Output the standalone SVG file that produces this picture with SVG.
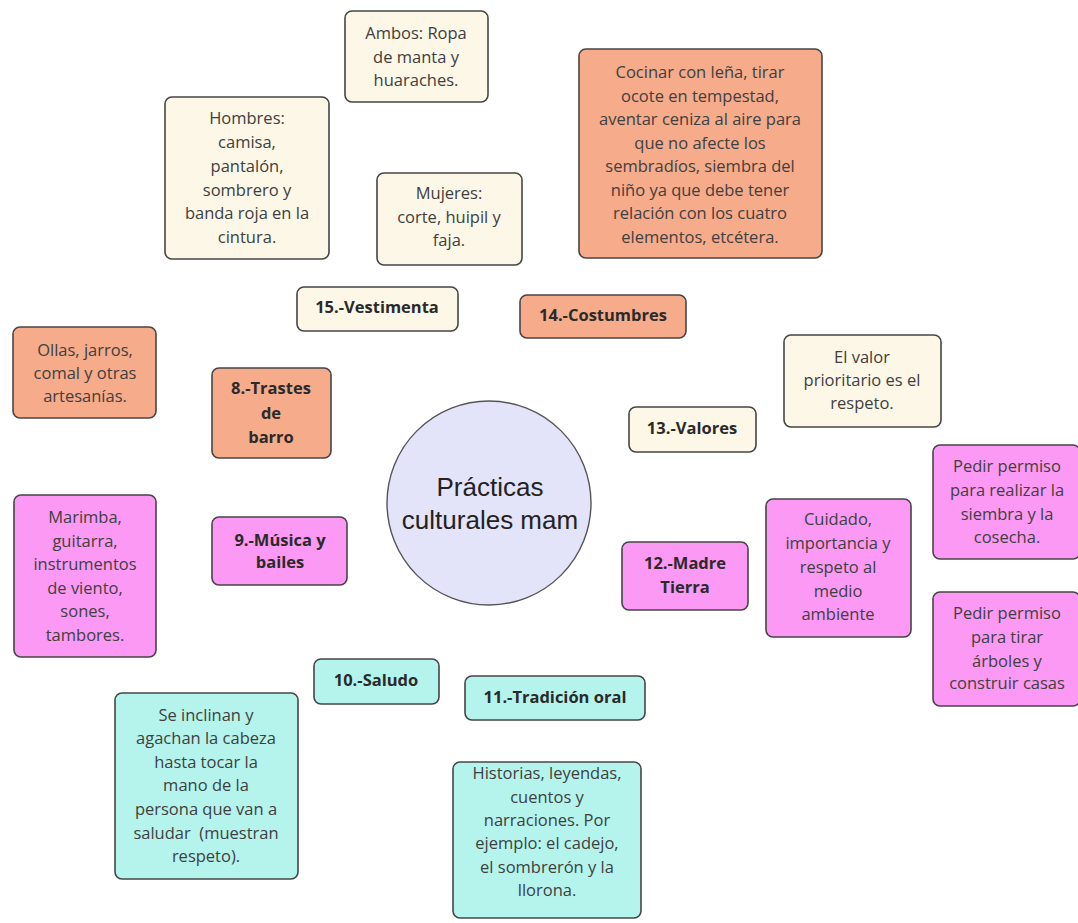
<svg xmlns="http://www.w3.org/2000/svg" width="1078" height="923" viewBox="0 0 1078 923">
<style>
.n rect{stroke:#454545;stroke-width:1.6}
.cr{fill:#fcf7e6}
.sa{fill:#f6ab8b}
.pk{fill:#fc99f4}
.cy{fill:#b5f4ec}
text{font-family:"Open Sans","Noto Sans","DejaVu Sans",sans-serif;font-size:16.5px;fill:#404040;text-anchor:middle}
.b{font-weight:700;fill:#2a2a2a}
.c{font-family:"Liberation Sans",Arial,sans-serif;font-size:26px;fill:#222}
</style>
<g id="connectors"></g>
<g id="ambos" class="n"><rect class="cr" x="345" y="11" width="143" height="91" rx="7"/>
<text x="416" y="39">Ambos: Ropa</text><text x="416" y="63">de manta y</text><text x="416" y="86">huaraches.</text></g>
<g id="hombres" class="n"><rect class="cr" x="165" y="97" width="164" height="162" rx="7"/>
<text x="247" y="124">Hombres:</text><text x="247" y="148">camisa,</text><text x="247" y="172">pantalón,</text><text x="247" y="196">sombrero y</text><text x="247" y="219">banda roja en la</text><text x="247" y="243">cintura.</text></g>
<g id="mujeres" class="n"><rect class="cr" x="377" y="173" width="145" height="92" rx="7"/>
<text x="449" y="199">Mujeres:</text><text x="449" y="223">corte, huipil y</text><text x="449" y="246">faja.</text></g>
<g id="vestimenta" class="n"><rect class="cr" x="297" y="287" width="161" height="44" rx="7"/>
<text class="b" x="377" y="313">15.-Vestimenta</text></g>
<g id="cocinar" class="n"><rect class="sa" x="579" y="49" width="243" height="209" rx="7"/>
<text x="700" y="78">Cocinar con leña, tirar</text><text x="700" y="101.5">ocote en tempestad,</text><text x="700" y="125">aventar ceniza al aire para</text><text x="700" y="148.5">que no afecte los</text><text x="700" y="172">sembradíos, siembra del</text><text x="700" y="195.5">niño ya que debe tener</text><text x="700" y="219">relación con los cuatro</text><text x="700" y="242.5">elementos, etcétera.</text></g>
<g id="costumbres" class="n"><rect class="sa" x="520" y="295" width="166" height="43" rx="7"/>
<text class="b" x="603" y="321">14.-Costumbres</text></g>
<g id="valor" class="n"><rect class="cr" x="784" y="335" width="157" height="92" rx="7"/>
<text x="862" y="363">El valor</text><text x="862" y="386">prioritario es el</text><text x="862" y="409">respeto.</text></g>
<g id="valores" class="n"><rect class="cr" x="629" y="407" width="127" height="45" rx="7"/>
<text class="b" x="692" y="434">13.-Valores</text></g>
<g id="ollas" class="n"><rect class="sa" x="13" y="327" width="143" height="91" rx="7"/>
<text x="85" y="356">Ollas, jarros,</text><text x="85" y="379">comal y otras</text><text x="85" y="402">artesanías.</text></g>
<g id="trastes" class="n"><rect class="sa" x="212" y="368" width="119" height="90" rx="7"/>
<text class="b" x="271" y="394">8.-Trastes</text><text class="b" x="271" y="419">de</text><text class="b" x="271" y="443">barro</text></g>
<g id="centro"><circle cx="489" cy="503" r="102" fill="#e3e3f9" stroke="#555" stroke-width="1.4"/>
<text class="c" x="490" y="496">Prácticas</text><text class="c" x="490" y="529">culturales mam</text></g>
<g id="musica" class="n"><rect class="pk" x="212" y="517" width="135" height="68" rx="7"/>
<text class="b" x="280" y="546">9.-Música y</text><text class="b" x="280" y="568">bailes</text></g>
<g id="marimba" class="n"><rect class="pk" x="14" y="495" width="142" height="162" rx="7"/>
<text x="85" y="523">Marimba,</text><text x="85" y="546.5">guitarra,</text><text x="85" y="570">instrumentos</text><text x="85" y="593.5">de viento,</text><text x="85" y="617">sones,</text><text x="85" y="640.5">tambores.</text></g>
<g id="madre" class="n"><rect class="pk" x="622" y="542" width="126" height="68" rx="7"/>
<text class="b" x="685" y="569">12.-Madre</text><text class="b" x="685" y="593">Tierra</text></g>
<g id="cuidado" class="n"><rect class="pk" x="766" y="499" width="145" height="138" rx="7"/>
<text x="838" y="525">Cuidado,</text><text x="838" y="549">importancia y</text><text x="838" y="573">respeto al</text><text x="838" y="597">medio</text><text x="838" y="620">ambiente</text></g>
<g id="pedir1" class="n"><rect class="pk" x="933" y="445" width="147" height="114" rx="7"/>
<text x="1007" y="472">Pedir permiso</text><text x="1007" y="496">para realizar la</text><text x="1007" y="520">siembra y la</text><text x="1007" y="543">cosecha.</text></g>
<g id="pedir2" class="n"><rect class="pk" x="933" y="592" width="147" height="114" rx="7"/>
<text x="1007" y="619">Pedir permiso</text><text x="1007" y="643">para tirar</text><text x="1007" y="667">árboles y</text><text x="1007" y="689">construir casas</text></g>
<g id="saludo" class="n"><rect class="cy" x="314" y="659" width="125" height="45" rx="7"/>
<text class="b" x="376" y="686">10.-Saludo</text></g>
<g id="tradicion" class="n"><rect class="cy" x="465" y="676" width="180" height="44" rx="7"/>
<text class="b" x="555" y="703">11.-Tradición oral</text></g>
<g id="inclinan" class="n"><rect class="cy" x="115" y="693" width="183" height="186" rx="7"/>
<text x="206" y="721">Se inclinan y</text><text x="206" y="744">agachan la cabeza</text><text x="206" y="768">hasta tocar la</text><text x="206" y="791">mano de la</text><text x="206" y="815">persona que van a</text><text x="206" y="839">saludar&#160; (muestran</text><text x="206" y="862">respeto).</text></g>
<g id="historias" class="n"><rect class="cy" x="453" y="762" width="188" height="156" rx="7"/>
<text x="547" y="779">Historias, leyendas,</text><text x="547" y="803">cuentos y</text><text x="547" y="826">narraciones. Por</text><text x="547" y="849">ejemplo: el cadejo,</text><text x="547" y="873">el sombrerón y la</text><text x="547" y="896">llorona.</text></g>
</svg>
